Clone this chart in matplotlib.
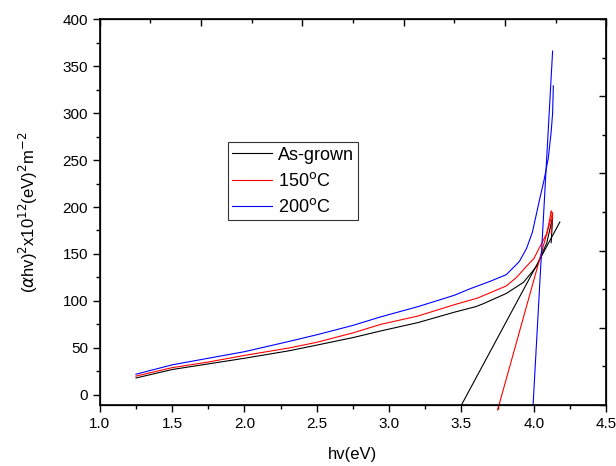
import numpy as np
import matplotlib.pyplot as plt
from matplotlib.ticker import MultipleLocator

plt.rcParams['font.family'] = ['Liberation Sans', 'DejaVu Sans']

# data
hv_asgrown = [1.25, 1.5, 1.75, 2.0, 2.31, 2.5, 2.75, 2.94, 3.2, 3.45, 3.6, 3.65, 3.81, 3.93, 4.02, 4.09, 4.10, 4.13, 4.12]
ah_asgrown = [18, 27, 33, 39, 47, 53, 61, 68, 77, 88, 94, 97, 108, 120, 137, 162, 169, 189, 162]

hv_150 = [1.25, 1.5, 1.75, 2.0, 2.31, 2.5, 2.75, 2.94, 3.2, 3.45, 3.61, 3.81, 3.88, 3.95, 4.0, 4.04, 4.09, 4.11, 4.12, 4.13, 4.12]
ah_150 = [20, 29, 35, 42, 50, 56, 66, 75, 84, 96, 103, 116, 125, 137, 145, 157, 172, 187, 196, 192, 172]

hv_200 = [1.25, 1.5, 1.75, 2.0, 2.31, 2.5, 2.75, 2.94, 3.2, 3.45, 3.56, 3.70, 3.81, 3.90, 3.95, 3.99, 4.04, 4.07, 4.10, 4.12, 4.13, 4.135]
ah_200 = [22, 32, 39, 46, 57, 64, 74, 83, 94, 106, 113, 121, 128, 142, 156, 173, 208, 228, 252, 280, 300, 329]

# tangent (Tauc) lines: x range ends
fit_asgrown = ([3.50, 4.18], [-10.7, 184])
fit_150 = ([3.75, 4.13], [-16, 194])
fit_200 = ([3.995, 4.13], [-10.7, 366])

fig = plt.figure(figsize=(6.16, 4.66), dpi=100)
ax = fig.add_axes([0.162, 0.131, 0.822, 0.828])

ax.plot(hv_asgrown, ah_asgrown, color='black', lw=0.8, label='As-grown')
ax.plot(hv_150, ah_150, color='red', lw=0.8, label='150$^{\\mathrm{o}}$C')
ax.plot(hv_200, ah_200, color='blue', lw=0.8, label='200$^{\\mathrm{o}}$C')

ax.plot(fit_asgrown[0], fit_asgrown[1], color='black', lw=0.8, clip_on=False)
ax.plot(fit_150[0], fit_150[1], color='red', lw=0.8, clip_on=False)
ax.plot(fit_200[0], fit_200[1], color='blue', lw=0.8, clip_on=False)

ax.set_xlim(1.0, 4.5)
ax.set_ylim(-10.7, 400)
ax.xaxis.set_major_locator(MultipleLocator(0.5))
ax.xaxis.set_minor_locator(MultipleLocator(0.25))
ax.yaxis.set_major_locator(MultipleLocator(50))
ax.yaxis.set_minor_locator(MultipleLocator(25))
ax.tick_params(which='major', direction='out', length=5, width=1, labelsize=11)
ax.tick_params(which='minor', direction='out', length=3, width=1)
ax.set_xticklabels([f'{v:.1f}' for v in ax.get_xticks()])
for s in ax.spines.values():
    s.set_linewidth(1.2)

# mirrored frame ticks (independent scale, like the original)
axt = ax.twiny()
axt.set_xlim(0, 10)
axt.xaxis.set_major_locator(MultipleLocator(2))
axt.xaxis.set_minor_locator(MultipleLocator(1))
axt.tick_params(which='both', direction='in', labeltop=False, width=1)
axt.tick_params(which='major', length=5)
axt.tick_params(which='minor', length=3)
axr = ax.twinx()
axr.set_ylim(0, 10)
axr.yaxis.set_major_locator(MultipleLocator(2))
axr.yaxis.set_minor_locator(MultipleLocator(1))
axr.tick_params(which='both', direction='in', labelright=False, width=1)
axr.tick_params(which='major', length=5)
axr.tick_params(which='minor', length=3)

ax.set_xlabel('hv(eV)', fontsize=12, labelpad=12)
ax.set_ylabel('($\\alpha$hv)$^2$x10$^{12}$(eV)$^2$m$^{-2}$', fontsize=12, labelpad=16)

leg = ax.legend(loc='upper left', bbox_to_anchor=(0.253, 0.681), fontsize=13,
                frameon=True, fancybox=False, handlelength=2.2, borderpad=0.25,
                labelspacing=0.45, handletextpad=0.3, borderaxespad=0)
leg.get_frame().set_edgecolor('black')
leg.get_frame().set_linewidth(0.8)

fig.savefig('out.png', dpi=100)
